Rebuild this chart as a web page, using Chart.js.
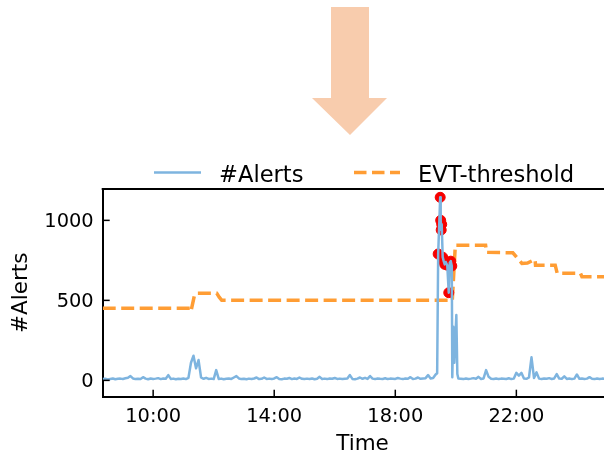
<!DOCTYPE html>
<html><head><meta charset="utf-8">
<script src="https://cdn.jsdelivr.net/npm/chart.js@4.4.1/dist/chart.umd.min.js"></script>
<style>html,body{margin:0;padding:0;background:#fff;overflow:hidden;width:604px;height:454px}
#wrap{width:640px;height:454px}</style></head>
<body><div id="wrap"><canvas id="c" width="640" height="454"></canvas></div>
<script>
// ---- data ----
const tickLabels = ['10:00', '14:00', '18:00', '22:00'];
const yTickValues = [0, 500, 1000];
const stepMinutes = 5;

const morningStart = '08:20';           // 08:20 .. 19:20, every 5 minutes
const morningCounts = [
  8, 10, 6, 9, 12, 7, 10, 11,
  9, 13, 16, 27, 12, 8, 10, 9, 20, 11, 7, 12,
  9, 11, 14, 8, 12, 10, 33, 9, 11, 7, 10, 9,
  12, 8, 16, 110, 154, 75, 127, 18, 10, 16, 9, 11,
  8, 64, 9, 11, 7, 10, 12, 9, 18, 27, 12, 8,
  10, 7, 11, 9, 12, 18, 8, 10, 18, 9, 11, 8,
  12, 20, 9, 7, 11, 10, 15, 8, 12, 9, 18, 10,
  8, 11, 9, 12, 7, 10, 22, 9, 11, 8, 12, 10,
  15, 9, 11, 8, 10, 12, 33, 9, 7, 11, 18, 10,
  16, 9, 27, 11, 8, 12, 10, 9, 13, 8, 11, 10,
  9, 15, 11, 8, 12, 10, 20, 9, 11, 18, 10, 12,
  14, 33, 12, 15, 37
];

const spikeTimes  = ['19:23','19:25','19:29','19:30','19:31','19:32','19:34','19:36','19:38','19:40','19:43','19:46','19:48','19:50','19:52','19:53','19:55','19:57','20:01','20:03','20:05'];
const spikeCounts = [45, 790, 1144, 1000, 940, 975, 770, 745, 725, 740, 720, 548, 735, 745, 715, 20, 335, 110, 408, 40, 12];

const eveningStart = '20:10';           // 20:10 .. 25:30 (01:30), every 5 minutes
const eveningCounts = [
  10, 8, 12, 9, 11, 14, 10, 22, 9, 12,
  64, 22, 10, 9, 12, 8, 11, 10, 9, 13, 8, 11,
  47, 30, 47, 12, 10, 18, 144, 15, 50, 11, 9, 12,
  10, 14, 9, 12, 39, 11, 10, 25, 9, 12, 8, 11,
  37, 10, 12, 9, 11, 20, 10, 8, 12, 9, 11, 10,
  9, 12, 10, 8, 11, 13, 10
];

const thresholdTimes  = ['08:20','11:13','11:15','11:22','11:26','12:06','12:11','12:16','19:53','19:59','20:59','21:01','21:53','22:11','22:22','22:37','22:38','23:17','23:21','24:07','24:10','25:30'];
const thresholdValues = [450, 450, 432, 533, 545, 545, 520, 500, 500, 845, 845, 800, 797, 731, 733, 756, 720, 720, 669, 669, 648, 648];

const anomalyTimes = ['19:25','19:29','19:30','19:31','19:32','19:34','19:36','19:38','19:40','19:43','19:46','19:48','19:50','19:52'];

// ---- build datasets ----
const toMin = s => { const p = s.split(':').map(Number); return p[0] * 60 + p[1]; };
const alertPoints = [];
morningCounts.forEach((v, i) => alertPoints.push({x: toMin(morningStart) + i * stepMinutes, y: v}));
spikeTimes.forEach((t, i) => alertPoints.push({x: toMin(t), y: spikeCounts[i]}));
eveningCounts.forEach((v, i) => alertPoints.push({x: toMin(eveningStart) + i * stepMinutes, y: v}));
const alertByTime = new Map(alertPoints.map(p => [p.x, p.y]));
const anomalyPoints = anomalyTimes.map(t => ({x: toMin(t), y: alertByTime.get(toMin(t))}));
const thresholdPoints = thresholdTimes.map((t, i) => ({x: toMin(t), y: thresholdValues[i]}));

const BLUE = 'rgb(126,180,223)';
const ORANGE = 'rgb(255,157,52)';
const FONT = 'DejaVu Sans';
Chart.defaults.font.family = FONT;
Chart.defaults.color = '#000';

const decor = {
  id: 'decor',
  beforeDraw(chart) {
    const ctx = chart.ctx;
    ctx.save();
    ctx.fillStyle = '#fff';
    ctx.fillRect(0, 0, chart.width, chart.height);
    ctx.fillStyle = 'rgb(248,204,173)';
    ctx.beginPath();
    ctx.moveTo(331, 7); ctx.lineTo(369, 7); ctx.lineTo(369, 98); ctx.lineTo(387, 98);
    ctx.lineTo(350, 135); ctx.lineTo(312, 98); ctx.lineTo(331, 98); ctx.closePath();
    ctx.fill();
    ctx.restore();
  },
  afterDraw(chart) {
    const {ctx, chartArea: a, scales: {x, y}} = chart;
    ctx.save();
    ctx.strokeStyle = '#000';
    ctx.lineWidth = 2;
    ctx.beginPath(); ctx.moveTo(a.left - 1, a.top); ctx.lineTo(a.right, a.top); ctx.stroke();
    ctx.lineWidth = 1.5;
    x.ticks.forEach(t => {
      const px = x.getPixelForValue(t.value);
      ctx.beginPath(); ctx.moveTo(px, a.bottom); ctx.lineTo(px, a.bottom - 7); ctx.stroke();
    });
    y.ticks.forEach(t => {
      const py = y.getPixelForValue(t.value);
      ctx.beginPath(); ctx.moveTo(a.left, py); ctx.lineTo(a.left + 7, py); ctx.stroke();
    });
    // legend
    const ly = 172.5;
    ctx.strokeStyle = BLUE; ctx.lineWidth = 2.5;
    ctx.beginPath(); ctx.moveTo(154, ly); ctx.lineTo(201, ly); ctx.stroke();
    ctx.strokeStyle = ORANGE; ctx.lineWidth = 3.5; ctx.setLineDash([12.5, 5.5]);
    ctx.beginPath(); ctx.moveTo(354, ly); ctx.lineTo(400, ly); ctx.stroke();
    ctx.setLineDash([]);
    ctx.fillStyle = '#000';
    ctx.font = '22.6px "' + FONT + '"';
    ctx.textBaseline = 'alphabetic';
    ctx.textAlign = 'left';
    ctx.fillText('#Alerts', 219, 181.5);
    ctx.fillText('EVT-threshold', 418, 181.5);
    ctx.restore();
  }
};

new Chart(document.getElementById('c'), {
  type: 'line',
  data: {
    datasets: [
      {label: '#Alerts', data: alertPoints, borderColor: BLUE, borderWidth: 2.5, pointRadius: 0,
       tension: 0, borderJoinStyle: 'round', fill: false, order: 0},
      {label: 'anomaly', type: 'scatter', data: anomalyPoints, backgroundColor: 'rgb(245,0,0)',
       borderColor: 'rgb(245,0,0)', borderWidth: 1, pointRadius: 5, order: 1},
      {label: 'EVT-threshold', data: thresholdPoints, borderColor: ORANGE, borderWidth: 3.5,
       borderDash: [13, 5.5], pointRadius: 0, tension: 0, fill: false, order: 2}
    ]
  },
  options: {
    responsive: false, animation: false, devicePixelRatio: 1,
    layout: {padding: {left: 0, top: 189, right: 17.7, bottom: 0}},
    plugins: {legend: {display: false}, tooltip: {enabled: false}},
    scales: {
      x: {
        type: 'linear', min: toMin('08:20'), max: toMin('25:30'),
        afterBuildTicks: s => { s.ticks = tickLabels.map(l => ({value: toMin(l)})); },
        afterFit: s => { s.height = 57.3; },
        grid: {display: false, drawTicks: false},
        border: {display: true, color: '#000', width: 2},
        ticks: {
          callback: v => { const i = tickLabels.findIndex(l => toMin(l) === v); return i >= 0 ? tickLabels[i] : ''; },
          color: '#000', font: {size: 19.4}, padding: 8.5, maxRotation: 0, autoSkip: false
        },
        title: {display: true, text: 'Time', color: '#000', font: {size: 21.5, lineHeight: 0.875}, padding: {top: 0, bottom: 0}}
      },
      y: {
        min: -102, max: 1196,
        afterBuildTicks: s => { s.ticks = yTickValues.map(v => ({value: v})); },
        afterFit: s => { s.width = 102.7; },
        grid: {display: false, drawTicks: false},
        border: {display: true, color: '#000', width: 2},
        ticks: {callback: v => String(v), color: '#000', font: {size: 19.4}, padding: 9, labelOffset: 1.5},
        title: {display: true, text: '#Alerts', color: '#000', font: {size: 21.5, lineHeight: 1}, padding: {top: 10.25, bottom: 0}}
      }
    }
  },
  plugins: [decor]
});
</script>
</body></html>
